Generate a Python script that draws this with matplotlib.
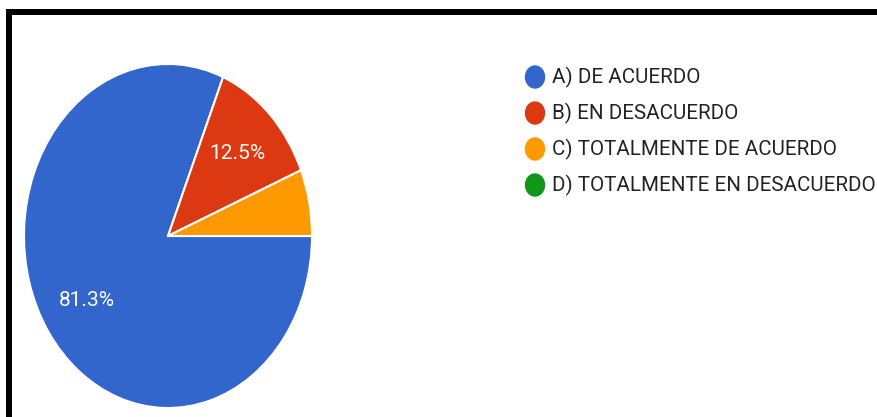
import matplotlib
matplotlib.use("Agg")
import matplotlib.pyplot as plt
import matplotlib.patches as mpatches
from decimal import Decimal, ROUND_HALF_UP

labels = ["A) DE ACUERDO", "B) EN DESACUERDO", "C) TOTALMENTE DE ACUERDO",
          "D) TOTALMENTE EN DESACUERDO"]
counts = [13, 2, 1, 0]
colors = ["#3366CC", "#DC3912", "#FF9900", "#109618"]

plt.rcParams["font.family"] = ["Roboto", "DejaVu Sans"]

W, H = 878, 417
fig = plt.figure(figsize=(W / 100, H / 100), dpi=100)


def pct_label(p):
    # google rounds half up (81.25 -> 81.3), small slices get no label
    if p < 10:
        return ""
    v = Decimal(str(round(p, 6))).quantize(Decimal("0.1"), rounding=ROUND_HALF_UP)
    return f"{v}%"


# pie area is squashed horizontally in the screenshot (288 x 344 px)
ax = fig.add_axes([24 / W, 9 / H, 288 / W, 344 / H])
wedges, texts, autotexts = ax.pie(
    counts[:3], colors=colors[:3], startangle=0, counterclock=False,
    autopct=pct_label, pctdistance=0.68,
    wedgeprops=dict(edgecolor="white", linewidth=1.5),
    textprops=dict(color="white", fontsize=15),
)
ax.set_aspect("auto")
ax.set_xlim(-1, 1)
ax.set_ylim(-1, 1)

# legend drawn by hand, google-charts style
for i, (lab, col) in enumerate(zip(labels, colors)):
    y = H - (77 + 36 * i)
    fig.patches.append(mpatches.Ellipse((535, y), 19, 22, color=col,
                                        transform=None))
    fig.text(552 / W, y / H, lab, fontsize=14.8, color="#222222",
             va="center", ha="left")

# black frame around the screenshot
fig.patches.append(mpatches.Rectangle((9, -20), 1000, H - 12 + 20, fill=False,
                                      edgecolor="black", linewidth=4.3,
                                      transform=None))

fig.savefig("out.png", dpi=100)
